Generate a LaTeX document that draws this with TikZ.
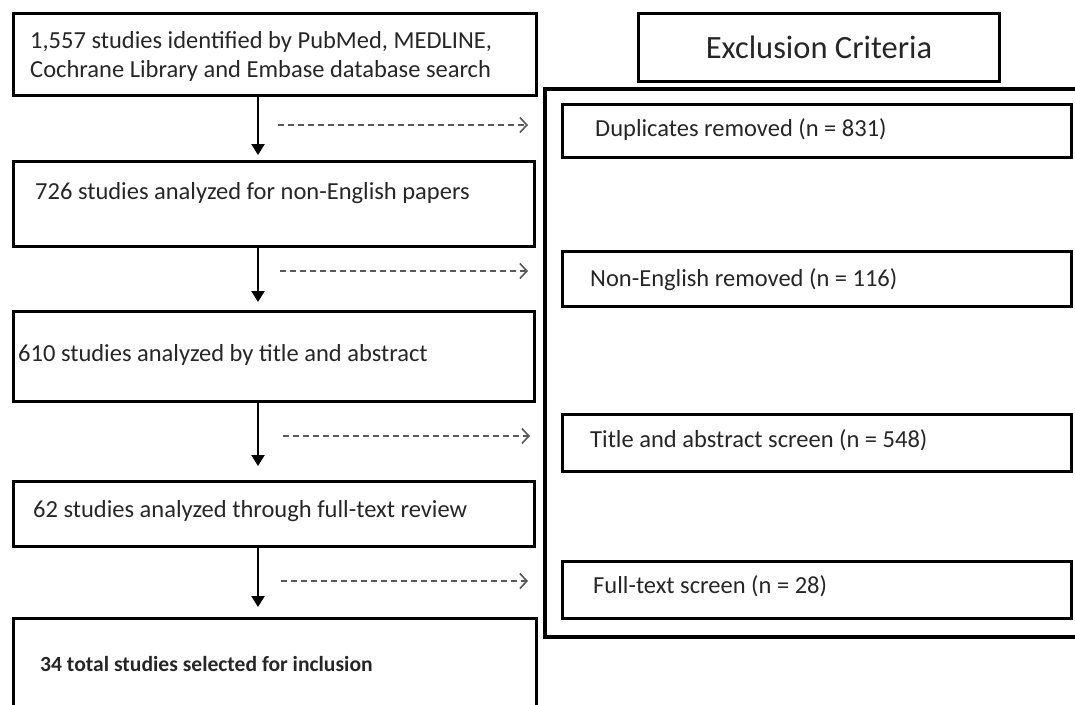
\documentclass[tikz,border=0pt]{standalone}
\usepackage{fontspec}
\setmainfont{Carlito}
\usetikzlibrary{arrows.meta}
\begin{document}
\begin{tikzpicture}[x=1pt,y=-1pt,
  box/.style={draw=black,line width=3pt,anchor=north west,inner sep=0pt},
  outer/.style={draw=black,line width=4pt,anchor=north west,inner sep=0pt},
  txt/.style={anchor=west,inner sep=0pt,font=\fontsize{24.5}{29}\selectfont,align=left,text=black!85},
  flow/.style={line width=2.2pt,-{Triangle[length=11pt,width=13pt]}},
  side/.style={draw=black!65,line width=1.6pt,dash pattern=on 6pt off 4pt,-{Straight Barb[length=7pt,width=15pt,line width=1.6pt]}}]
\useasboundingbox (0,0) rectangle (1075,704);
\clip (0,0) rectangle (1075,704);
% left column boxes
\node[box,minimum width=523pt,minimum height=82pt] (b1) at (12,12) {};
\node[box,minimum width=521pt,minimum height=85pt] (b2) at (12,160) {};
\node[box,minimum width=521pt,minimum height=90pt] (b3) at (12,310) {};
\node[box,minimum width=521pt,minimum height=65pt] (b4) at (12,480) {};
\node[box,minimum width=523pt,minimum height=120pt] (b5) at (12,617) {};
\node[txt] (t1) at (30,56) {1,557 studies identified by PubMed, MEDLINE,\\Cochrane Library and Embase database search};
\node[txt] (t2) at (35,193) {726 studies analyzed for non-English papers};
\node[txt] (t3) at (18,355) {610 studies analyzed by title and abstract};
\node[txt] (t4) at (33,511) {62 studies analyzed through full-text review};
\node[txt,font=\fontsize{21.6}{26}\selectfont\bfseries] (t5) at (40,664) {34 total studies selected for inclusion};
% right column
\node[box,minimum width=361pt,minimum height=68pt] (ec) at (637,12) {};
\node[anchor=center,inner sep=0pt,font=\fontsize{32.5}{36}\selectfont,text=black!85] (ect) at (ec.center) {Exclusion Criteria};
\node[outer,minimum width=560pt,minimum height=548pt] (ob) at (543,87) {};
\node[box,minimum width=509pt,minimum height=53pt] (r1) at (561,103) {};
\node[box,minimum width=509pt,minimum height=55pt] (r2) at (561,250) {};
\node[box,minimum width=509pt,minimum height=57pt] (r3) at (561,413) {};
\node[box,minimum width=509pt,minimum height=57pt] (r4) at (561,560) {};
\node[txt] (rt1) at (595,130) {Duplicates removed (n = 831)};
\node[txt] (rt2) at (590,280) {Non-English removed (n = 116)};
\node[txt] (rt3) at (590,440) {Title and abstract screen (n = 548)};
\node[txt] (rt4) at (593,586) {Full-text screen (n = 28)};
% vertical flow arrows
\coordinate (ax) at (258,0);
\draw[flow] (b1.south -| ax) -- ([yshift=5pt]b2.north -| ax);
\draw[flow] (b2.south -| ax) -- ([yshift=8pt]b3.north -| ax);
\draw[flow] (b3.south -| ax) -- ([yshift=14pt]b4.north -| ax);
\draw[flow] (b4.south -| ax) -- ([yshift=10pt]b5.north -| ax);
% dashed side arrows
\coordinate (d1s) at (278,125); \coordinate (d1e) at (528,125);
\coordinate (d2s) at (280,271); \coordinate (d2e) at (528,271);
\coordinate (d3s) at (283,436); \coordinate (d3e) at (530,436);
\coordinate (d4s) at (281,581); \coordinate (d4e) at (528,581);
\draw[side] (d1s) -- (d1e);
\draw[side] (d2s) -- (d2e);
\draw[side] (d3s) -- (d3e);
\draw[side] (d4s) -- (d4e);
\end{tikzpicture}
\end{document}
